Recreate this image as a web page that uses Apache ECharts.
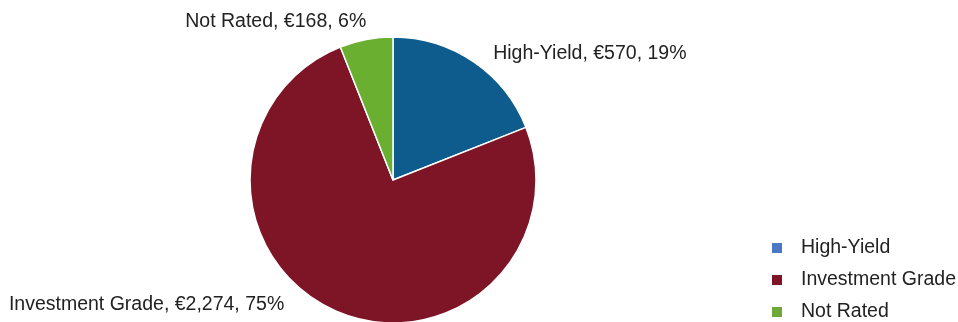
<!DOCTYPE html>
<html><head><meta charset="utf-8">
<script src="https://cdn.jsdelivr.net/npm/echarts@6/dist/echarts.min.js"></script>
<style>html,body{margin:0;padding:0;background:#fff}#c{width:958px;height:322px}</style>
</head><body><div id="c"></div>
<script>
var categories = ['High-Yield', 'Investment Grade', 'Not Rated'];
var amounts = ['€570', '€2,274', '€168'];
var percents = [19, 75, 6];
var sliceColors = ['#0e5c8d', '#7d1526', '#6aaf30'];
var legendColors = ['#4a78c2', '#7d1526', '#6ea838'];
var labelShift = [[7, -4], [-40, -11], [11, -13]];

var chart = echarts.init(document.getElementById('c'));
chart.setOption({
  animation: false,
  legend: {
    orient: 'vertical', right: 2, top: 237, height: 120, padding: 0,
    itemWidth: 12, itemHeight: 12, itemGap: 10,
    icon: 'rect',
    textStyle: {fontFamily: 'Liberation Sans', fontSize: 19.5, lineHeight: 22, color: '#222', padding: [0, 0, 0, 13]},
    data: categories.map(function (c, i) { return {name: c, itemStyle: {color: legendColors[i]}}; })
  },
  series: [{
    type: 'pie',
    center: [393, 180], radius: 143,
    startAngle: 90, clockwise: true,
    avoidLabelOverlap: false,
    itemStyle: {borderColor: '#fff', borderWidth: 1.5},
    label: {
      show: true, position: 'outside',
      fontFamily: 'Liberation Sans', fontSize: 19.5, color: '#222',
      formatter: function (p) { return p.name + ', ' + amounts[p.dataIndex] + ', ' + percents[p.dataIndex] + '%'; }
    },
    labelLine: {show: false, length: 5, length2: 5},
    labelLayout: function (p) { return {dx: labelShift[p.dataIndex][0], dy: labelShift[p.dataIndex][1]}; },
    emphasis: {disabled: true},
    data: categories.map(function (c, i) { return {name: c, value: percents[i], itemStyle: {color: sliceColors[i]}}; })
  }]
});
</script></body></html>
